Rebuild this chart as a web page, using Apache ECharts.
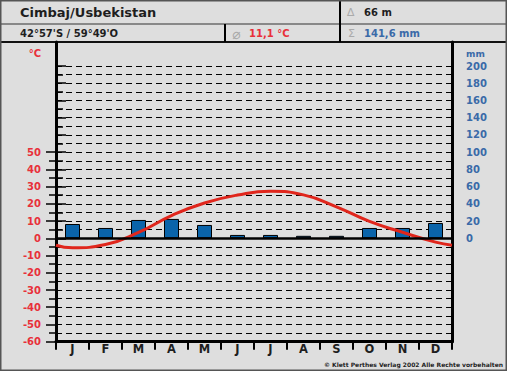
<!DOCTYPE html>
<html>
<head>
<meta charset="utf-8">
<script src="https://cdn.jsdelivr.net/npm/echarts@6/dist/echarts.min.js"></script>
<style>
html,body{margin:0;padding:0;background:#dedede;}
#c{width:507px;height:371px;}
</style>
</head>
<body>
<div id="c"></div>
<script>
// ---- data ----
var months = ['J','F','M','A','M','J','J','A','S','O','N','D'];
var temperature = [-5.5, -3.6, 3.4, 13.2, 20.5, 25.1, 27.3, 25.2, 18.3, 9.8, 3.5, -2.2]; // °C
var tempEdge = -4.0; // value of the curve at both plot edges
var precipitation = [16.6, 12, 21.3, 22.5, 15.5, 3.9, 3.9, 2.9, 2.9, 12, 12, 17.8]; // mm
var tempTicks = {min: -60, max: 50, step: 10};
var mmTicks = {min: 0, max: 200, step: 20};
var station = 'Cimbaj/Usbekistan';
var coords = "42°57'S / 59°49'O";
var meanTemp = '11,1 °C';
var altitude = '66 m';
var totalPrecip = '141,6 mm';

// ---- layout ----
var W = 507, H = 371;
var L = 56, R = 452;
var yTop = 66, yBot = 341.7;           // 100 °C  and  -60 °C
var tMin = -60, tMax = 100;
function yOf(t){ return yBot - (t - tMin) * (yBot - yTop) / (tMax - tMin); }

var FONT = '"DejaVu Sans", Verdana, sans-serif';
var RED = '#e8303a', BLUE = '#3a6aa8', DARK = '#1e1e1e';

var linePts = [[0, tempEdge]];
temperature.forEach(function(v, i){ linePts.push([i + 0.5, v]); });
linePts.push([12, tempEdge]);

var chart = echarts.init(document.getElementById('c'), null, {renderer: 'svg'});
var hidden = {show: false};
var option = {
  backgroundColor: '#dedede',
  animation: false,
  grid: [
    {left: L, right: W - R, top: 42, bottom: H - yBot},                 // 0 frame
    {left: L, right: W - R, top: yTop, bottom: H - yBot},               // 1 data
    {left: L, right: W - R, top: yOf(50), bottom: H - yBot},            // 2 °C ticks
    {left: L, right: W - R, top: yTop, bottom: H - yOf(0)}              // 3 mm ticks
  ],
  xAxis: [
    {gridIndex: 0, type: 'category', data: months, position: 'bottom',
     axisLine: {show: true, onZero: false, lineStyle: {color: '#000', width: 3}},
     axisTick: {show: true, length: 8, lineStyle: {color: '#000', width: 2}},
     axisLabel: {color: DARK, fontFamily: FONT, fontWeight: 'bold', fontSize: 11.5, margin: 1},
     splitLine: hidden},
    {gridIndex: 1, type: 'category', data: months, show: false},
    {gridIndex: 1, type: 'value', min: 0, max: 12, show: false},
    {gridIndex: 2, type: 'value', min: 0, max: 1, show: false},
    {gridIndex: 3, type: 'value', min: 0, max: 1, show: false}
  ],
  yAxis: [
    {gridIndex: 0, type: 'value', min: 0, max: 1, position: 'left',
     axisLine: {show: true, lineStyle: {color: '#000', width: 3}},
     axisTick: hidden, axisLabel: hidden, splitLine: hidden},
    {gridIndex: 0, type: 'value', min: 0, max: 1, position: 'right',
     axisLine: {show: true, lineStyle: {color: '#000', width: 3}},
     axisTick: hidden, axisLabel: hidden, splitLine: hidden},
    // data grid: temperature (for dashed grid + line)
    {gridIndex: 1, type: 'value', min: tMin, max: tMax, interval: 5, position: 'left',
     axisLine: hidden, axisTick: hidden, axisLabel: hidden,
     splitLine: {show: true, lineStyle: {color: '#000', width: 1, type: [6, 4]}}},
    // data grid: precipitation (for bars)
    {gridIndex: 1, type: 'value', min: tMin * 2, max: tMax * 2, position: 'right',
     show: false},
    // °C labels/ticks
    {gridIndex: 2, type: 'value', min: tempTicks.min, max: tempTicks.max, interval: tempTicks.step,
     position: 'left',
     axisLine: {show: false},
     axisTick: {show: true, length: 10, lineStyle: {color: '#000', width: 1.5}},
     minorTick: {show: true, splitNumber: 2, length: 7, lineStyle: {color: '#000', width: 1.5}},
     axisLabel: {color: RED, fontFamily: FONT, fontWeight: 'bold', fontSize: 10, margin: 15},
     splitLine: hidden},
    // mm labels/ticks
    {gridIndex: 3, type: 'value', min: mmTicks.min, max: mmTicks.max, interval: mmTicks.step,
     position: 'right',
     axisLine: {show: false},
     axisTick: {show: true, length: 10, lineStyle: {color: '#000', width: 1.5}},
     minorTick: {show: true, splitNumber: 2, length: 7, lineStyle: {color: '#000', width: 1.5}},
     axisLabel: {color: BLUE, fontFamily: FONT, fontWeight: 'bold', fontSize: 10, margin: 14},
     splitLine: hidden}
  ],
  series: [
    {type: 'bar', xAxisIndex: 1, yAxisIndex: 3, data: precipitation, barWidth: 15, z: 2,
     itemStyle: {color: '#0a64aa', borderColor: '#000', borderWidth: 1},
     markLine: {silent: true, symbol: ['none', 'none'], label: {show: false},
                lineStyle: {color: '#000', width: 2.5, type: 'solid'},
                data: [{yAxis: 0}]}},
    {type: 'line', xAxisIndex: 2, yAxisIndex: 2, data: linePts, smooth: true, z: 4,
     showSymbol: false, lineStyle: {color: '#e0261c', width: 3}}
  ],
  graphic: [
    {type: 'rect', shape: {x: 0.75, y: 0.75, width: W - 1.5, height: H - 1.5}, z: 100,
     style: {fill: 'none', stroke: '#555', lineWidth: 1.5}},
    {type: 'line', shape: {x1: 0, y1: 24, x2: W, y2: 24}, style: {stroke: '#333', lineWidth: 1}},
    {type: 'line', shape: {x1: 0, y1: 42, x2: W, y2: 42}, style: {stroke: '#111', lineWidth: 2}},
    {type: 'line', shape: {x1: 340, y1: 0, x2: 340, y2: 42}, style: {stroke: '#000', lineWidth: 2}},
    {type: 'line', shape: {x1: 225, y1: 24, x2: 225, y2: 42}, style: {stroke: '#000', lineWidth: 2}},
    {type: 'text', x: 20, y: 12.5, style: {text: station, fill: DARK, font: 'bold 13px ' + FONT, textVerticalAlign: 'middle'}},
    {type: 'text', x: 20, y: 33.5, style: {text: coords, fill: DARK, font: 'bold 10px ' + FONT, textVerticalAlign: 'middle'}},
    {type: 'text', x: 232, y: 33.5, style: {text: '⌀', fill: '#aaa', font: '14px ' + FONT, textVerticalAlign: 'middle'}},
    {type: 'text', x: 249, y: 33.5, style: {text: meanTemp, fill: RED, font: 'bold 10px ' + FONT, textVerticalAlign: 'middle'}},
    {type: 'text', x: 347, y: 12.7, style: {text: '∆', fill: '#aaa', font: '11px ' + FONT, textVerticalAlign: 'middle'}},
    {type: 'text', x: 364, y: 12.7, style: {text: altitude, fill: DARK, font: 'bold 10px ' + FONT, textVerticalAlign: 'middle'}},
    {type: 'text', x: 348, y: 33.5, style: {text: 'Σ', fill: '#aaa', font: '11px ' + FONT, textVerticalAlign: 'middle'}},
    {type: 'text', x: 364, y: 33.5, style: {text: totalPrecip, fill: BLUE, font: 'bold 10px ' + FONT, textVerticalAlign: 'middle'}},
    {type: 'text', x: 41, y: 53.5, style: {text: '°C', fill: RED, font: 'bold 10px ' + FONT, textAlign: 'right', textVerticalAlign: 'middle'}},
    {type: 'text', x: 466, y: 54, style: {text: 'mm', fill: BLUE, font: 'bold 9px ' + FONT, textVerticalAlign: 'middle'}},
    {type: 'text', x: 503, y: 364.5, style: {text: '© Klett Perthes Verlag 2002 Alle Rechte vorbehalten', fill: DARK, font: 'bold 6px ' + FONT, textAlign: 'right', textVerticalAlign: 'middle'}}
  ]
};
chart.setOption(option);
</script>
</body>
</html>
